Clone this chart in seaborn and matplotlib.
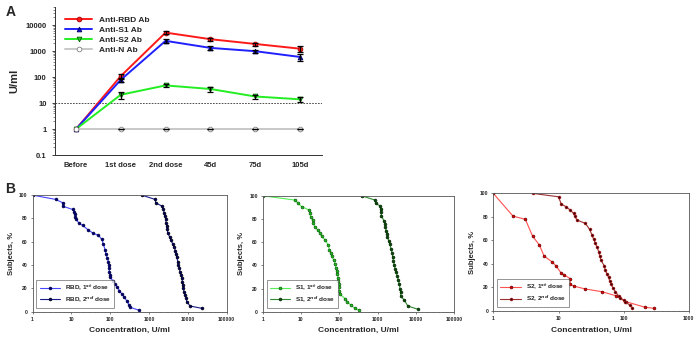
import matplotlib
matplotlib.use("Agg")
import matplotlib.pyplot as plt
import matplotlib.ticker as mticker
import seaborn as sns
import numpy as np
import pandas as pd

# ---- panel A data (geometric means, U/ml) ----
timepoints = ["Before", "1st dose", "2nd dose", "45d", "75d", "105d"]
rbd_mean = [1, 110, 5200, 2900, 1900, 1250]
rbd_err = [0, 25, 700, 400, 250, 350]
s1_mean = [1, 79, 2500, 1340, 1000, 600]
s1_err = [0, 15, 400, 200, 120, 170]
s2_mean = [1, 21, 48, 35, 18, 14]
s2_err = [0, 6, 6, 8, 3, 3]
n_mean = [1, 1, 1, 1, 1, 1]
n_err = [0, 0, 0, 0, 0, 0]

# ---- panel B data (reverse cumulative distributions) ----
rbd_d1_conc = [1, 4.0, 6.0, 6.0, 10.8, 12, 12.7, 12.7, 13.2, 16, 19.6, 27.5, 37, 50, 61, 67, 74, 78,
               85, 90, 92, 94, 95, 100, 100, 117, 134, 154, 173, 199, 233, 268, 308, 326, 540]
rbd_d1_pct = [100, 96.3, 93.4, 90.5, 87.7, 85.7, 83.7, 81.4, 79.2, 75.7, 74, 70, 67.2, 65.5, 62, 58,
              52.9, 49.4, 45.7, 42.9, 40, 37.2, 34.3, 31.4, 29.5, 26.6, 23.7, 20.9, 18, 15.2, 12.3,
              9.2, 5.7, 3.8, 1.4]
rbd_d2_conc = [650, 1440, 1490, 2140, 2350, 2450, 2600, 2700, 2760, 2870, 2970, 3030, 3370, 3650,
               4100, 4450, 4800, 5000, 5200, 5530, 5720, 6050, 6300, 6700, 7000, 7250, 7400, 7700,
               8000, 8500, 9100, 9400, 11400, 23000]
rbd_d2_pct = [100, 96.3, 93.4, 90.6, 87.7, 84.8, 82, 79.2, 76.3, 73.4, 70.6, 67.7, 64.3, 61.4, 58,
              55.2, 52.3, 49.4, 46.6, 42.9, 40, 37.2, 34.3, 31.4, 28.6, 25.7, 22.9, 20, 17.1, 14.3,
              11.4, 8.6, 4.9, 2.9]
s1_d1_conc = [1, 7, 8.5, 10.4, 16.5, 17, 17.9, 20, 21, 23, 27, 31.5, 34.5, 42.5, 52, 55, 60, 63, 73,
              77, 82, 85, 89, 93, 94, 98, 98, 100, 104, 140, 162, 198, 257, 332]
s1_d1_pct = [100, 96.3, 93.4, 90.6, 87.7, 84.8, 82, 79.2, 76.3, 73.4, 70.6, 67.7, 64.9, 62, 57.2,
             53.5, 50.6, 47.7, 44.3, 41.5, 38, 35.1, 32.3, 29.5, 26.6, 23.7, 20.9, 18, 15.2, 11.4,
             8.6, 5.7, 2.9, 1.4]
s1_d2_conc = [385, 850, 890, 1150, 1200, 1230, 1250, 1480, 1560, 1590, 1670, 1740, 1800, 1950, 2100,
              2230, 2400, 2470, 2570, 2750, 2840, 3040, 3270, 3470, 3700, 3830, 3990, 3990, 4970,
              6150, 11600]
s1_d2_pct = [100, 96.3, 93.4, 91.4, 88.6, 85.7, 82.9, 78, 75.7, 72.8, 70, 67.2, 64.3, 61.4, 58, 54.3,
             50.6, 47.2, 43.7, 40, 37.2, 34.3, 30.6, 27.2, 23.7, 20, 17.1, 13.4, 10, 4.9, 2]
s2_d1_conc = [1, 2.0, 3.1, 4.0, 5.1, 6.0, 7.9, 9.1, 10.9, 12.3, 15.1, 15.1, 17, 25.8, 46.5, 75, 108,
              215, 290]
s2_d1_pct = [100, 80.7, 77.9, 63.7, 56, 46.7, 41.9, 38.5, 32.5, 30.6, 27.5, 22.7, 21.2, 18.7, 16.4,
             13, 7.9, 3.1, 2.3]
s2_d2_conc = [4.0, 10, 11, 13.1, 15.1, 17, 17.7, 19.2, 25.8, 30, 32.6, 34.6, 36.6, 39, 41.4, 42.8,
              45, 50.5, 52, 55.5, 58.7, 60.8, 64, 68.7, 74.5, 83.6, 88.8, 100, 106, 123, 135]
s2_d2_pct = [100, 97.1, 90.9, 88.6, 85.8, 83, 80.7, 77.3, 74.5, 69.4, 64.6, 60.9, 58, 54.1, 50.4,
             46.7, 43, 38.2, 34.8, 31.4, 28.6, 25.7, 22.9, 19.3, 16.4, 12.7, 10.8, 9.3, 7.9, 5.1, 2.9]

sns.set_style("white")
plt.rcParams['font.family'] = ['Liberation Sans', 'DejaVu Sans']
plt.rcParams['font.weight'] = 'bold'
plt.rcParams['axes.labelweight'] = 'bold'

fig = plt.figure(figsize=(6.96, 3.37), dpi=100)
plain = mticker.FuncFormatter(lambda v, _: f'{v:g}')

# ---------------- panel A ----------------
axA = fig.add_axes([0.079, 0.540, 0.384, 0.439])
series_a = [
    ("Anti-RBD Ab", rbd_mean, rbd_err, "#ff1a1a", "o", "#ff1a1a", "#a00000"),
    ("Anti-S1 Ab", s1_mean, s1_err, "#2020ff", "^", "#1010d0", "#000060"),
    ("Anti-S2 Ab", s2_mean, s2_err, "#22ee22", "v", "#22cc22", "#006000"),
    ("Anti-N Ab", n_mean, n_err, "#c8c8c8", "o", "white", "#808080"),
]
xpos = np.arange(len(timepoints))
for name, mean, err, lc, mk, mfc, mec in series_a:
    df = pd.DataFrame({"t": xpos, "v": mean})
    sns.lineplot(data=df, x="t", y="v", ax=axA, color=lc, lw=1.4, marker=mk, markersize=3.4,
                 markerfacecolor=mfc, markeredgecolor=mec, markeredgewidth=0.6, label=name,
                 zorder=3)
    e = np.array(err)
    m = np.array(mean, dtype=float)
    low = np.minimum(e, m * 0.8)
    axA.errorbar(xpos[1:], m[1:], yerr=[low[1:], e[1:]], fmt='none', ecolor='black',
                 elinewidth=0.9, capsize=2.5, capthick=0.9, zorder=4)
axA.axhline(10, color='#333333', ls=(0, (2, 1.5)), lw=0.6, zorder=1)
axA.set_yscale('log')
axA.set_ylim(0.1, 50000)
axA.set_xlim(-0.47, 5.5)
axA.set_xticks(xpos)
axA.set_xticklabels(timepoints)
axA.yaxis.set_major_formatter(plain)
axA.set_yticks([0.1, 1, 10, 100, 1000, 10000])
axA.set_xlabel("")
axA.set_ylabel("U/ml", fontsize=8)
axA.tick_params(axis='y', labelsize=5.5, length=2.5, width=0.6, direction='out', left=True)
axA.tick_params(axis='y', which='minor', length=1.2, width=0.4, left=True)
axA.tick_params(axis='x', labelsize=5.5, length=0, pad=5)
for s in ['top', 'right']:
    axA.spines[s].set_visible(False)
for s in ['left', 'bottom']:
    axA.spines[s].set_color('#333333')
    axA.spines[s].set_linewidth(0.7)
leg = axA.legend(loc='upper left', bbox_to_anchor=(0.02, 0.97), frameon=False, fontsize=6,
                 handlelength=3.2, labelspacing=0.25, borderaxespad=0.2)
for t in leg.get_texts():
    t.set_fontweight('bold')

# ---------------- panel B ----------------
panels_b = [
    ([0.0467, 0.075, 0.279, 0.346], (1, 100000),
     [("RBD, 1$^{st}$ dose", rbd_d1_conc, rbd_d1_pct, "#4545ff", "#000070", "#000040"),
      ("RBD, 2$^{nd}$ dose", rbd_d2_conc, rbd_d2_pct, "#1a1a8a", "#000060", "#000000")]),
    ([0.3774, 0.075, 0.2753, 0.344], (1, 100000),
     [("S1, 1$^{st}$ dose", s1_d1_conc, s1_d1_pct, "#55ee55", "#22bb22", "#004400"),
      ("S1, 2$^{nd}$ dose", s1_d2_conc, s1_d2_pct, "#2f8a2f", "#0b4a0b", "#002000")]),
    ([0.7088, 0.0772, 0.281, 0.349], (1, 1000),
     [("S2, 1$^{st}$ dose", s2_d1_conc, s2_d1_pct, "#ff5050", "#dd0000", "#500000"),
      ("S2, 2$^{nd}$ dose", s2_d2_conc, s2_d2_pct, "#9a3030", "#3a0000", "#c02020")]),
]
for rect, xlim, series in panels_b:
    ax = fig.add_axes(rect)
    for name, conc, pct, lc, mfc, mec in series:
        df = pd.DataFrame({"conc": conc, "pct": pct})
        sns.lineplot(data=df, x="conc", y="pct", ax=ax, sort=False, estimator=None, color=lc,
                     lw=0.8, marker='o', markersize=2.1, markerfacecolor=mfc,
                     markeredgecolor=mec, markeredgewidth=0.4, label=name)
    ax.set_xscale('log')
    ax.set_xlim(*xlim)
    ax.set_ylim(0, 100)
    ax.set_yticks([0, 20, 40, 60, 80, 100])
    ax.xaxis.set_major_formatter(plain)
    ax.xaxis.set_minor_formatter(mticker.NullFormatter())
    ax.set_xlabel("Concentration, U/ml", fontsize=6)
    ax.set_ylabel("Subjects, %", fontsize=5.5, labelpad=3)
    ax.tick_params(axis='both', labelsize=3.6, length=1.5, width=0.4, direction='out',
                   bottom=True, left=True, pad=2)
    ax.tick_params(axis='x', which='minor', length=1, width=0.3, bottom=True)
    for s in ax.spines.values():
        s.set_color('#555555')
        s.set_linewidth(0.6)
    lg = ax.legend(loc='lower left', fontsize=4.6, frameon=True, fancybox=False,
                   edgecolor='#444444', handlelength=3.2, labelspacing=0.3,
                   borderaxespad=0.6, borderpad=0.5)
    lg.get_frame().set_linewidth(0.5)

fig.text(0.008, 0.965, "A", fontsize=10, fontweight='bold', va='center')
fig.text(0.008, 0.44, "B", fontsize=10, fontweight='bold', va='center')

fig.savefig("out.png", dpi=100)
